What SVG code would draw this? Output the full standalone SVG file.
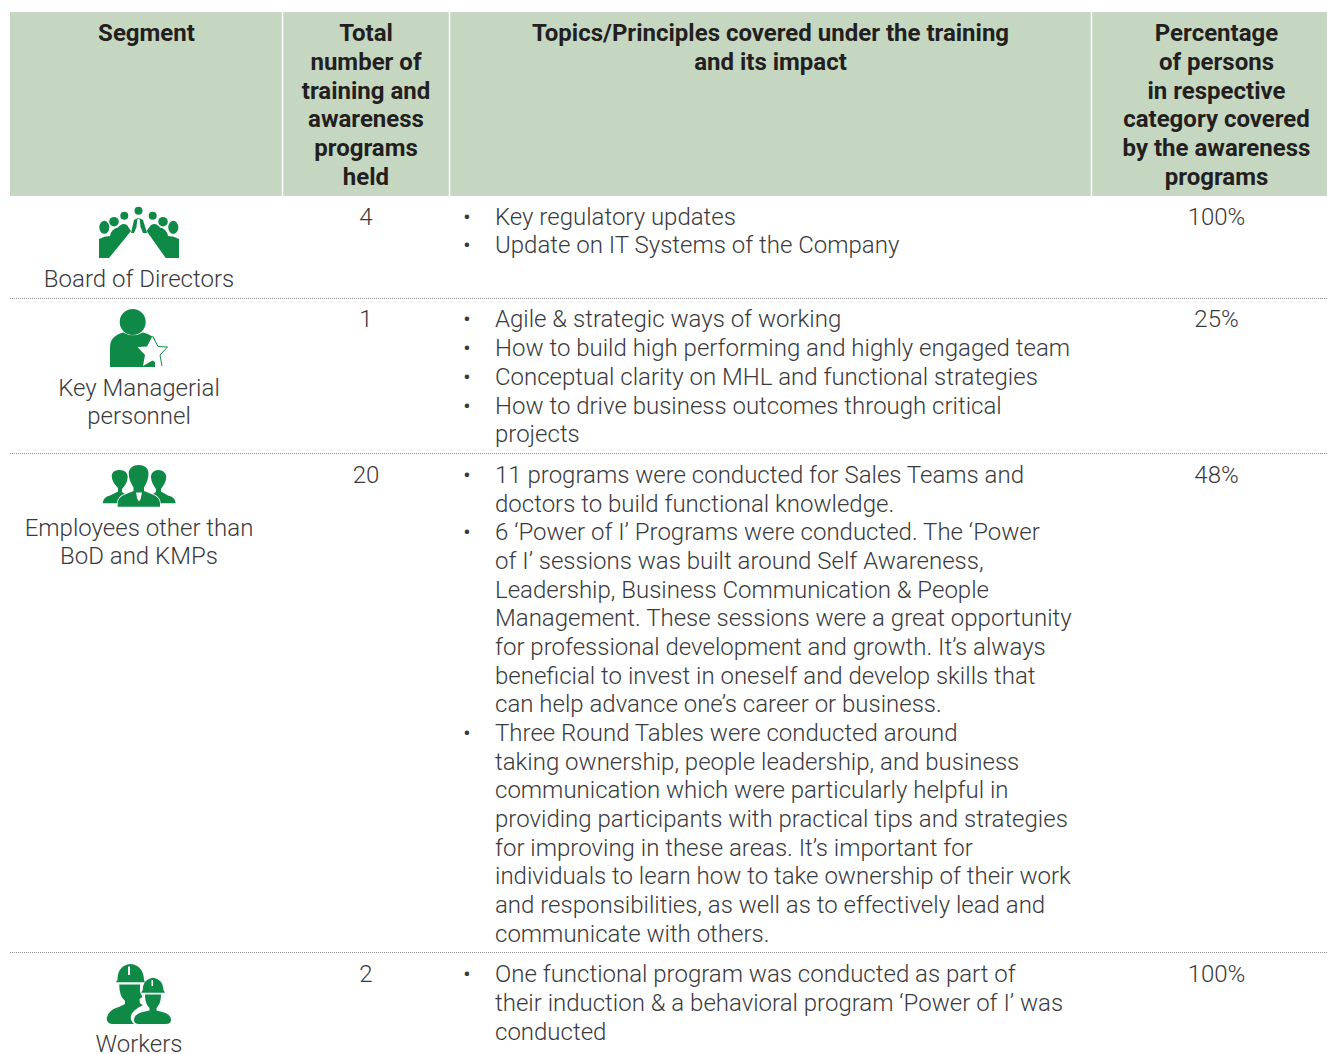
<svg xmlns="http://www.w3.org/2000/svg" width="1327" height="1054" viewBox="0 0 1327 1054">
<style>
text{font-family:Roboto,"Liberation Sans",sans-serif;fill:#3a3a3c;font-size:24px;font-weight:300}
.h{font-weight:700;fill:#231f20;text-anchor:middle}
.c{text-anchor:middle}
.i{fill:#0f8a46}
.g{stroke:#fff;stroke-width:1.4;paint-order:stroke}
.w{fill:#fff}
.d{stroke:#8f8f8f;stroke-width:1.2;stroke-dasharray:1 1;fill:none}
</style>
<rect width="1327" height="1054" fill="#fff"/>
<g id="header">
<rect x="10" y="12" width="1317" height="184" fill="#c5d7c1"/>
<path d="M282.500 12V196M449.500 12V196M1091.500 12V196" stroke="#fff" stroke-width="1.500"/>
<text class="h" x="146.500" y="41">Segment</text>
<text class="h" x="366" y="41">Total</text>
<text class="h" x="366" y="70">number of</text>
<text class="h" x="366" y="99">training and</text>
<text class="h" x="366" y="127">awareness</text>
<text class="h" x="366" y="156">programs</text>
<text class="h" x="366" y="185">held</text>
<text class="h" x="770.500" y="41">Topics/Principles covered under the training</text>
<text class="h" x="770.500" y="70">and its impact</text>
<text class="h" x="1216.500" y="41">Percentage</text>
<text class="h" x="1216.500" y="70">of persons</text>
<text class="h" x="1216.500" y="99">in respective</text>
<text class="h" x="1216.500" y="127">category covered</text>
<text class="h" x="1216.500" y="156">by the awareness</text>
<text class="h" x="1216.500" y="185">programs</text>
</g>
<g id="rules">
<path class="d" d="M10 298.500H1327M10 453.500H1327M10 952.500H1327"/>
</g>
<g id="board">
<g class="i">
<circle cx="138.500" cy="210.700" r="4"/><circle cx="124.300" cy="215.700" r="4"/><circle cx="152.700" cy="215.700" r="4"/>
<circle cx="114" cy="221.700" r="4.800"/><circle cx="163" cy="221.700" r="4.800"/>
<ellipse cx="104.300" cy="227.300" rx="5" ry="6.500"/><ellipse cx="173.300" cy="227.300" rx="5" ry="6.500"/>
<path d="M99 258V239Q104 236 110 236Q111 229 118 227.500Q122 222 127 225L131 231L109 258Z"/>
<path d="M179 258V239Q174 236 168 236Q167 229 160 227.500Q156 222 151 225L146.500 231L165.700 258Z"/>
<path d="M131 233L134 220Q138.500 216.500 143 220L147 233L143 233L139 223.500H138L134 233Z"/>
</g>
<path class="w" d="M137.500 219H139.500L140.500 226L138.500 229L136.500 226Z"/>
<text class="c" x="139" y="287">Board of Directors</text>
</g>
<g id="kmp">
<circle class="i" cx="132.700" cy="322" r="13"/>
<path class="i" d="M110 367V347Q110 336 123 332.500Q133 338 143 332.500Q152 335 155 339V367Z"/>
<path class="w" d="M152.500 336L158 346.500L167.500 347L160 355L162 366L152.500 360.500L143 366L145 355L137.500 347L147 346.500Z"/>
<path fill="none" stroke="#0f8a46" stroke-width="1" d="M152.500 336L158 346.500L167.500 347L160 355L162 366"/>
<text class="c" x="139" y="396">Key Managerial</text>
<text class="c" x="139" y="424">personnel</text>
</g>
<g id="employees">
<path class="i" d="M102.700 503.300Q103 497 110 495.500L118 491.500V488C114 484 111.700 480 111.700 476C112 472 115 470 119.500 470C125 470 127.700 473 127.700 477C127.500 482 125 486 122 489V492L128 496V503.300Z"/>
<path class="i" d="M175.700 503.300Q175.400 497 168 495.500L161 491.500V489C164 485 166.300 481 166.300 477C166 473 163 470 158.500 470C154 470 151 473 151 477C151 481 153 485 156 489V492L150 496V503.300Z"/>
<path class="i g" d="M117.700 506.700V503Q118 497 125 494.500L133.500 491V487.500C130.500 483 128.700 478 128.700 473C129 468 133 465 138.700 465C144.500 465 148.300 468 148.500 473C148.500 478 147 483 144 487.500V491L152.500 494.500Q159.500 497 160 503V506.700Z"/>
<path class="w" d="M136 492.500H142L140.700 499L139 501.500L137.300 499Z"/>
<text class="c" x="139" y="536">Employees other than</text>
<text class="c" x="139" y="564">BoD and KMPs</text>
</g>
<g id="workers">
<path class="i" d="M117.500 980C117.500 970 122 965 130.500 964C139 965 143.500 970 144 980L145 982.300H115.700Z"/>
<path class="i" d="M119.300 984.500H140V992L142.500 997L139.500 999L140 1003.500L143 1005Q131 1011 130.700 1017Q130.700 1021 134 1024H113Q106.700 1024 106.700 1018Q108 1010 120 1006.500L125 1004V1001Q119 996 119.300 984.500Z"/>
<path class="i" d="M142.700 990C143 982 147 978.500 153 977.700C159 978.500 163 982 163.500 990L165 992.700H141Z"/>
<path class="i" d="M145 994.500H161C161 1001 159.500 1005 156.500 1008V1010.500L164 1012.500Q171 1015 171 1020Q171 1024 166 1024H139Q134 1024 134 1020Q134 1015 141 1012.500L149.500 1010.500V1008C146.500 1005 145 1001 145 994.500Z"/>
<path class="w" d="M128 966.500H130V975H128ZM151.500 980H153V986H151.500Z"/>
<text class="c" x="139" y="1052">Workers</text>
</g>
<g id="counts">
<text class="c" x="366" y="225">4</text>
<text class="c" x="366" y="327">1</text>
<text class="c" x="366" y="483">20</text>
<text class="c" x="366" y="982">2</text>
</g>
<g id="percents">
<text class="c" x="1216.500" y="225">100%</text>
<text class="c" x="1216.500" y="327">25%</text>
<text class="c" x="1216.500" y="483">48%</text>
<text class="c" x="1216.500" y="982">100%</text>
</g>
<g id="topics">
<text x="463" y="225">•</text><text x="495" y="225">Key regulatory updates</text>
<text x="463" y="253">•</text><text x="495" y="253">Update on IT Systems of the Company</text>
<text x="463" y="327">•</text><text x="495" y="327">Agile &amp; strategic ways of working</text>
<text x="463" y="356">•</text><text x="495" y="356">How to build high performing and highly engaged team</text>
<text x="463" y="385">•</text><text x="495" y="385">Conceptual clarity on MHL and functional strategies</text>
<text x="463" y="414">•</text><text x="495" y="414">How to drive business outcomes through critical</text>
<text x="495" y="442">projects</text>
<text x="463" y="483">•</text><text x="495" y="483">11 programs were conducted for Sales Teams and</text>
<text x="495" y="512">doctors to build functional knowledge.</text>
<text x="463" y="540">•</text><text x="495" y="540">6 ‘Power of I’ Programs were conducted. The ‘Power</text>
<text x="495" y="569">of I’ sessions was built around Self Awareness,</text>
<text x="495" y="598">Leadership, Business Communication &amp; People</text>
<text x="495" y="626">Management. These sessions were a great opportunity</text>
<text x="495" y="655">for professional development and growth. It’s always</text>
<text x="495" y="684">beneficial to invest in oneself and develop skills that</text>
<text x="495" y="712">can help advance one’s career or business.</text>
<text x="463" y="741">•</text><text x="495" y="741">Three Round Tables were conducted around</text>
<text x="495" y="770">taking ownership, people leadership, and business</text>
<text x="495" y="798">communication which were particularly helpful in</text>
<text x="495" y="827">providing participants with practical tips and strategies</text>
<text x="495" y="856">for improving in these areas. It’s important for</text>
<text x="495" y="884">individuals to learn how to take ownership of their work</text>
<text x="495" y="913">and responsibilities, as well as to effectively lead and</text>
<text x="495" y="942">communicate with others.</text>
<text x="463" y="982">•</text><text x="495" y="982">One functional program was conducted as part of</text>
<text x="495" y="1011">their induction &amp; a behavioral program ‘Power of I’ was</text>
<text x="495" y="1040">conducted</text>
</g>
</svg>
